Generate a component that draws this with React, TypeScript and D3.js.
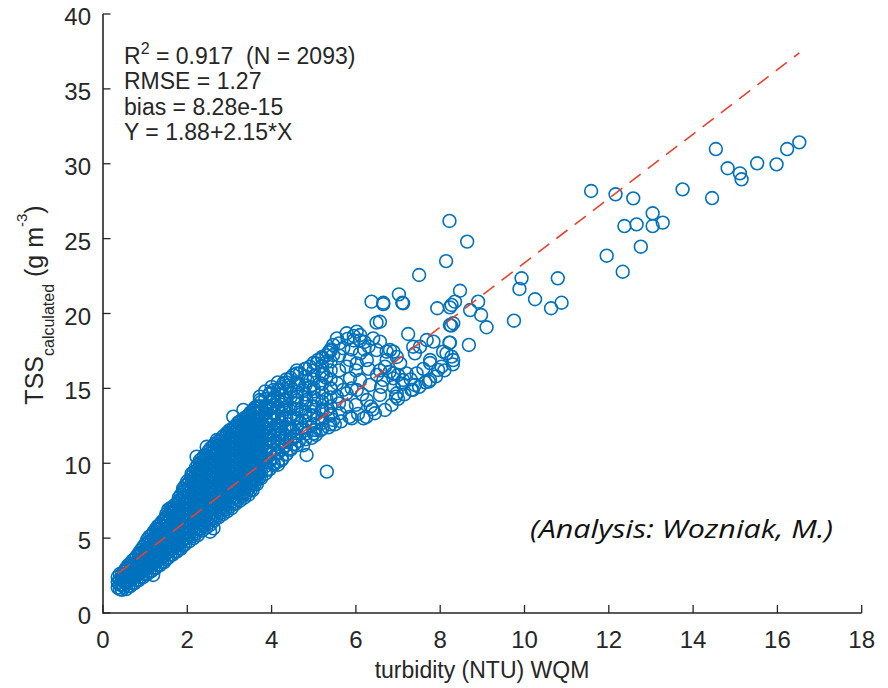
import React from "react";
import * as d3 from "d3";

const W = 888;
const H = 688;

const xTicks = [0, 2, 4, 6, 8, 10, 12, 14, 16, 18];
const yTicks = [0, 5, 10, 15, 20, 25, 30, 35, 40];

const fitIntercept = 1.88;
const fitSlope = 2.15;

const statR2 = "0.917";
const statN = "2093";
const statLines = ["RMSE = 1.27", "bias = 8.28e-15", "Y = 1.88+2.15*X"];

// Dense core of the cloud: x column and the y values of the circles read at that x
const denseX = [
  0.35, 0.45, 0.55, 0.65, 0.75, 0.85, 0.95, 1.05, 1.15, 1.25, 1.35, 1.45, 1.55, 1.65, 1.75, 1.85, 1.95,
  2.05, 2.15, 2.25, 2.35, 2.45, 2.55, 2.65, 2.75, 2.85, 2.95, 3.05, 3.15, 3.25, 3.35, 3.45, 3.55, 3.65, 3.75,
  3.85, 3.95, 4.05, 4.15, 4.25, 4.35, 4.45,
];
const denseY: number[][] = [
  [1.7, 2.05, 2.4],
  [1.55, 1.9, 2.25, 2.6],
  [1.6, 2.0, 2.4, 2.8, 3.0],
  [1.8, 2.2, 2.6, 3.0, 3.3],
  [2.0, 2.4, 2.8, 3.2, 3.6],
  [2.2, 2.6, 3.0, 3.4, 3.8, 4.0],
  [2.4, 2.8, 3.2, 3.6, 4.0, 4.4],
  [2.6, 3.0, 3.4, 3.8, 4.2, 4.6, 4.9],
  [2.8, 3.2, 3.6, 4.0, 4.4, 4.8, 5.2],
  [3.0, 3.4, 3.8, 4.2, 4.6, 5.0, 5.4, 5.6],
  [3.2, 3.6, 4.0, 4.4, 4.8, 5.2, 5.6, 5.9],
  [3.4, 3.8, 4.2, 4.6, 5.0, 5.4, 5.8, 6.2],
  [3.7, 4.1, 4.5, 4.9, 5.3, 5.7, 6.1, 6.5, 6.9],
  [3.9, 4.3, 4.7, 5.1, 5.5, 5.9, 6.3, 6.7, 7.0],
  [4.1, 4.5, 4.9, 5.3, 5.7, 6.1, 6.5, 6.9, 7.3],
  [4.3, 4.7, 5.1, 5.5, 5.9, 6.3, 6.7, 7.1, 7.5, 7.9],
  [4.6, 5.0, 5.4, 5.8, 6.2, 6.6, 7.0, 7.4, 7.8, 8.2, 8.5],
  [4.8, 5.2, 5.6, 6.0, 6.4, 6.8, 7.2, 7.6, 8.0, 8.4, 8.8],
  [5.0, 5.4, 5.8, 6.2, 6.6, 7.0, 7.4, 7.8, 8.2, 8.6, 9.0, 9.4],
  [5.2, 5.6, 6.0, 6.4, 6.8, 7.2, 7.6, 8.0, 8.4, 8.8, 9.2, 9.6, 9.9],
  [5.5, 5.9, 6.3, 6.7, 7.1, 7.5, 7.9, 8.3, 8.7, 9.1, 9.5, 9.9, 10.3],
  [5.7, 6.1, 6.5, 6.9, 7.3, 7.7, 8.1, 8.5, 8.9, 9.3, 9.7, 10.1, 10.5],
  [5.9, 6.3, 6.7, 7.1, 7.5, 7.9, 8.3, 8.7, 9.1, 9.5, 9.9, 10.3, 10.7, 11.0],
  [6.2, 6.6, 7.0, 7.4, 7.8, 8.2, 8.6, 9.0, 9.4, 9.8, 10.2, 10.6, 11.0, 11.3],
  [6.4, 6.8, 7.2, 7.6, 8.0, 8.4, 8.8, 9.2, 9.6, 10.0, 10.4, 10.8, 11.2, 11.5],
  [6.6, 7.0, 7.4, 7.8, 8.2, 8.6, 9.0, 9.4, 9.8, 10.2, 10.6, 11.0, 11.4, 11.8],
  [6.8, 7.2, 7.6, 8.0, 8.4, 8.8, 9.2, 9.6, 10.0, 10.4, 10.8, 11.2, 11.6, 12.0],
  [7.0, 7.4, 7.8, 8.2, 8.6, 9.0, 9.4, 9.8, 10.2, 10.6, 11.0, 11.4, 11.8, 12.2],
  [7.3, 7.7, 8.1, 8.5, 8.9, 9.3, 9.7, 10.1, 10.5, 10.9, 11.3, 11.7, 12.1, 12.5],
  [7.5, 7.9, 8.3, 8.7, 9.1, 9.5, 9.9, 10.3, 10.7, 11.1, 11.5, 11.9, 12.3, 12.8],
  [7.7, 8.1, 8.5, 8.9, 9.3, 9.7, 10.1, 10.5, 10.9, 11.3, 11.7, 12.1, 12.5, 13.0],
  [7.9, 8.3, 8.7, 9.1, 9.5, 9.9, 10.3, 10.7, 11.1, 11.5, 11.9, 12.3, 12.7, 13.2],
  [8.2, 8.6, 9.0, 9.4, 9.8, 10.2, 10.6, 11.0, 11.4, 11.8, 12.2, 12.6, 13.0, 13.5],
  [8.6, 9.0, 9.4, 9.8, 10.2, 10.6, 11.0, 11.4, 11.8, 12.2, 12.6, 13.0, 13.4, 13.8],
  [9.0, 9.4, 9.8, 10.2, 10.6, 11.0, 11.4, 11.8, 12.2, 12.6, 13.0, 13.4, 13.8, 14.1],
  [9.3, 9.8, 10.3, 10.8, 11.3, 11.8, 12.3, 12.8, 13.3, 13.8, 14.3],
  [9.6, 10.1, 10.6, 11.1, 11.6, 12.1, 12.6, 13.1, 13.6, 14.1, 14.6],
  [9.9, 10.4, 10.9, 11.4, 11.9, 12.4, 12.9, 13.4, 13.9, 14.4, 14.9],
  [10.1, 10.7, 11.3, 11.9, 12.5, 13.1, 13.7, 14.3, 14.9],
  [10.3, 10.9, 11.5, 12.1, 12.7, 13.3, 13.9, 14.5, 15.1],
  [10.6, 11.2, 11.8, 12.4, 13.0, 13.6, 14.2, 14.8, 15.4],
  [10.9, 11.6, 12.3, 13.0, 13.7, 14.4, 15.1, 15.7],
];

// Second, interleaved set of columns of the dense core
const denseX2 = [
  0.4, 0.5, 0.6, 0.7, 0.8, 0.9, 1.0, 1.1, 1.2, 1.3, 1.4, 1.5, 1.6, 1.7, 1.8, 1.9, 2.0, 2.1, 2.2, 2.3, 2.4,
  2.5, 2.6, 2.7, 2.8, 2.9, 3.0, 3.1, 3.2, 3.3, 3.4, 3.5, 3.6, 3.7, 4.6, 4.8, 5.0, 5.2, 5.4,
];
const denseY2: number[][] = [
  [1.6, 1.9, 2.25, 2.6],
  [1.75, 2.1, 2.45, 2.8],
  [1.8, 2.2, 2.6, 3.0, 3.2],
  [2.0, 2.4, 2.8, 3.2, 3.5],
  [2.2, 2.6, 3.0, 3.4, 3.8],
  [2.4, 2.8, 3.2, 3.6, 4.0, 4.2],
  [2.6, 3.0, 3.4, 3.8, 4.2, 4.6],
  [2.8, 3.2, 3.6, 4.0, 4.4, 4.8, 5.1],
  [3.0, 3.4, 3.8, 4.2, 4.6, 5.0, 5.4],
  [3.2, 3.6, 4.0, 4.4, 4.8, 5.2, 5.6, 5.8],
  [3.4, 3.8, 4.2, 4.6, 5.0, 5.4, 5.8, 6.1],
  [3.6, 4.0, 4.4, 4.8, 5.2, 5.6, 6.0, 6.4, 6.6],
  [3.9, 4.3, 4.7, 5.1, 5.5, 5.9, 6.3, 6.7, 7.0],
  [4.1, 4.5, 4.9, 5.3, 5.7, 6.1, 6.5, 6.9, 7.2],
  [4.3, 4.7, 5.1, 5.5, 5.9, 6.3, 6.7, 7.1, 7.5, 7.7],
  [4.5, 4.9, 5.3, 5.7, 6.1, 6.5, 6.9, 7.3, 7.7, 8.1, 8.3],
  [5.0, 5.4, 5.8, 6.2, 6.6, 7.0, 7.4, 7.8, 8.2, 8.6, 8.8],
  [5.1, 5.5, 5.9, 6.3, 6.7, 7.1, 7.5, 7.9, 8.3, 8.7, 9.1, 9.3],
  [5.3, 5.7, 6.1, 6.5, 6.9, 7.3, 7.7, 8.1, 8.5, 8.9, 9.3, 9.7],
  [5.6, 6.0, 6.4, 6.8, 7.2, 7.6, 8.0, 8.4, 8.8, 9.2, 9.6, 10.0, 10.2],
  [5.8, 6.2, 6.6, 7.0, 7.4, 7.8, 8.2, 8.6, 9.0, 9.4, 9.8, 10.2, 10.5],
  [6.0, 6.4, 6.8, 7.2, 7.6, 8.0, 8.4, 8.8, 9.2, 9.6, 10.0, 10.4, 10.8],
  [6.3, 6.7, 7.1, 7.5, 7.9, 8.3, 8.7, 9.1, 9.5, 9.9, 10.3, 10.7, 11.1],
  [6.5, 6.9, 7.3, 7.7, 8.1, 8.5, 8.9, 9.3, 9.7, 10.1, 10.5, 10.9, 11.3],
  [6.7, 7.1, 7.5, 7.9, 8.3, 8.7, 9.1, 9.5, 9.9, 10.3, 10.7, 11.1, 11.5],
  [6.9, 7.3, 7.7, 8.1, 8.5, 8.9, 9.3, 9.7, 10.1, 10.5, 10.9, 11.3, 11.7],
  [7.1, 7.5, 7.9, 8.3, 8.7, 9.1, 9.5, 9.9, 10.3, 10.7, 11.1, 11.5, 11.9, 12.2],
  [7.3, 7.7, 8.1, 8.5, 8.9, 9.3, 9.7, 10.1, 10.5, 10.9, 11.3, 11.7, 12.1, 12.4],
  [7.6, 8.0, 8.4, 8.8, 9.2, 9.6, 10.0, 10.4, 10.8, 11.2, 11.6, 12.0, 12.4, 12.7],
  [7.8, 8.2, 8.6, 9.0, 9.4, 9.8, 10.2, 10.6, 11.0, 11.4, 11.8, 12.2, 12.6, 12.9],
  [8.0, 8.4, 8.8, 9.2, 9.6, 10.0, 10.4, 10.8, 11.2, 11.6, 12.0, 12.4, 12.8, 13.1],
  [8.2, 8.6, 9.0, 9.4, 9.8, 10.2, 10.6, 11.0, 11.4, 11.8, 12.2, 12.6, 13.0, 13.4],
  [8.6, 9.0, 9.4, 9.8, 10.2, 10.6, 11.0, 11.4, 11.8, 12.2, 12.6, 13.0, 13.4, 13.7],
  [9.0, 9.4, 9.8, 10.2, 10.6, 11.0, 11.4, 11.8, 12.2, 12.6, 13.0, 13.4, 13.8],
  [11.2, 11.8, 12.4, 13.0, 13.6, 14.2, 14.8, 15.4, 16.0],
  [11.6, 12.2, 12.8, 13.4, 14.0, 14.6, 15.2, 15.8, 16.3],
  [12.0, 12.6, 13.2, 13.8, 14.4, 15.0, 15.6, 16.2, 16.7],
  [12.3, 12.9, 13.5, 14.1, 14.7, 15.3, 15.9, 16.5, 17.1],
  [12.6, 13.2, 13.8, 14.4, 15.0, 15.6, 16.2, 16.8, 17.5],
];

// Edge circles of the core
const edgePoints: [number, number][] = [
  [1.19, 2.54], [1.63, 6.95], [2.22, 10.44], [2.54, 5.43], [2.62, 5.65], [2.46, 11.1], [2.7, 11.55],
  [2.93, 12.0], [3.17, 12.22], [3.09, 13.11], [3.33, 13.56], [3.57, 13.56], [3.41, 12.67], [3.72, 14.22],
  [3.72, 14.45], [3.65, 12.44], [3.49, 11.33], [3.25, 10.89], [3.72, 11.55], [3.88, 11.1], [3.72, 10.44],
  [3.96, 10.22], [3.88, 12.89], [4.04, 13.34], [2.78, 10.22], [3.09, 10.44], [3.41, 10.22], [3.49, 9.77],
  [3.88, 9.55], [3.25, 9.33], [2.93, 9.1], [3.57, 8.77], [3.09, 8.43], [2.7, 8.43], [3.33, 8.0],
];

// Medium-density part of the cloud
const midPoints: [number, number][] = [
  [3.96, 14.67], [4.2, 14.89], [4.28, 15.34], [4.51, 15.89], [4.67, 16.0], [4.91, 16.45], [5.07, 16.67],
  [5.31, 16.78], [5.46, 17.23], [5.46, 17.9], [5.7, 17.68], [5.55, 18.34], [5.78, 18.68], [6.02, 18.79],
  [6.1, 18.56], [5.23, 16.0], [5.15, 15.34], [4.91, 15.1], [4.75, 14.89], [4.6, 14.45], [4.83, 14.22],
  [5.07, 14.22], [5.55, 15.34], [5.55, 14.45], [4.91, 13.22], [4.67, 12.67], [4.83, 12.0], [5.03, 12.22],
  [4.28, 13.56], [4.44, 13.11], [4.2, 12.44], [4.36, 11.55], [4.04, 11.55], [4.24, 10.22], [4.12, 10.67],
  [4.83, 10.55], [5.31, 9.44], [3.95, 9.6], [4.05, 10.0], [4.15, 9.9], [4.35, 10.6], [4.45, 11.0],
  [4.55, 11.3], [4.65, 11.5], [4.75, 11.2], [4.95, 11.7], [5.05, 11.9], [5.15, 12.2], [5.35, 12.4],
  [5.5, 12.6], [5.65, 12.8], [5.85, 13.1], [6.05, 13.3], [6.25, 13.1], [6.4, 13.6], [3.95, 12.0],
  [4.1, 12.3], [4.0, 13.0], [4.15, 13.8], [4.3, 14.2], [4.45, 14.7], [4.5, 12.2], [4.6, 13.0], [4.7, 13.6],
  [4.4, 12.6], [4.55, 14.0], [4.8, 13.2], [4.95, 13.8], [5.1, 13.0], [5.2, 13.6], [5.3, 14.3], [5.4, 15.0],
  [5.0, 14.8], [4.85, 15.5], [4.65, 15.3], [4.4, 15.2], [4.05, 14.2], [3.9, 13.7], [3.85, 12.4], [4.2, 11.9],
  [4.3, 11.1], [4.55, 11.8], [4.7, 12.3], [5.2, 12.7], [5.4, 13.3], [5.6, 14.0], [5.7, 14.9], [5.3, 15.7],
  [5.0, 15.8], [5.6, 16.2], [5.2, 17.0], [5.35, 17.4], [5.6, 17.2], [5.9, 17.6], [5.95, 18.2], [6.2, 18.1],
  [6.3, 17.8], [5.85, 16.9], [6.0, 16.2], [6.3, 16.3], [5.9, 15.0], [6.15, 14.6], [6.0, 13.9], [6.35, 13.8],
  [6.6, 15.1], [6.5, 15.9], [6.8, 16.1], [3.85, 14.8], [4.0, 15.1], [4.15, 15.4], [4.35, 15.6], [4.6, 16.2],
  [4.8, 16.3], [5.1, 16.9], [5.3, 17.2], [5.4, 17.6], [5.6, 18.0], [5.8, 18.3], [5.95, 18.5], [6.1, 18.2],
  [6.2, 17.6], [6.37, 20.79], [6.65, 20.63], [7.12, 20.68], [6.49, 19.39], [7.24, 18.63], [8.23, 19.23],
  [8.23, 18.05], [7.84, 18.12], [7.52, 17.78], [7.76, 16.89], [8.15, 17.34], [8.31, 16.89], [7.95, 16.23],
  [7.4, 17.34], [7.05, 16.67], [7.2, 16.0], [6.89, 15.67], [7.4, 15.23], [7.76, 15.56], [6.69, 16.45],
  [6.33, 15.23], [6.57, 14.56], [6.97, 14.67], [6.69, 13.56], [6.45, 13.34], [6.26, 14.22], [6.02, 14.89],
  [5.78, 14.67], [5.78, 13.78], [5.9, 13.0], [5.62, 13.34], [5.46, 12.89], [5.31, 13.56], [6.18, 13.0],
  [6.1, 15.56], [5.86, 15.67], [6.26, 16.89], [6.02, 16.67], [5.78, 16.45], [6.1, 17.34], [6.49, 17.56],
  [6.73, 17.45], [6.89, 17.45], [6.57, 18.12], [6.41, 18.34], [6.85, 13.9], [7.0, 14.3], [7.15, 14.6],
  [7.35, 14.9], [7.5, 15.1], [7.65, 15.4], [7.9, 15.8], [8.1, 16.2], [8.3, 16.6], [7.3, 15.6], [7.6, 16.3],
  [7.1, 15.3], [6.9, 15.1], [6.95, 14.45], [7.0, 15.9], [7.32, 14.9], [7.73, 15.45], [7.76, 16.69],
  [8.03, 16.45], [8.27, 17.12], [8.07, 17.45], [7.36, 17.78], [7.68, 18.23], [6.81, 17.56], [6.73, 16.9],
  [6.97, 17.1], [6.57, 16.2], [6.89, 16.0], [6.65, 15.56], [7.12, 15.56], [7.44, 16.0], [8.31, 19.35],
];

// Sparse upper-right circles
const sparsePoints: [number, number][] = [
  [7.02, 21.28], [7.1, 20.72], [6.65, 20.72], [6.57, 19.45], [8.47, 21.52], [8.35, 20.79], [8.23, 20.41],
  [7.93, 20.35], [8.27, 20.57], [8.71, 20.23], [8.9, 20.79], [8.97, 19.9], [9.1, 19.08], [8.26, 19.19],
  [8.22, 18.05], [8.68, 17.9], [8.14, 23.5], [7.5, 22.57], [8.22, 26.18], [8.64, 24.8], [9.93, 22.35],
  [9.88, 21.64], [10.79, 22.35], [10.25, 20.95], [10.63, 20.35], [10.88, 20.72], [9.75, 19.52],
  [11.95, 23.86], [12.33, 22.79], [12.37, 25.84], [12.66, 25.95], [13.04, 26.69], [13.28, 26.07],
  [13.04, 25.84], [12.76, 24.46], [11.58, 28.18], [12.16, 27.96], [12.58, 27.69], [13.75, 28.29],
  [14.45, 27.71], [14.54, 30.98], [14.82, 29.7], [15.11, 29.36], [15.15, 28.96], [15.52, 30.03],
  [15.98, 29.96], [16.23, 30.98], [16.52, 31.43],
];

const FONT = "'Liberation Sans', Arial, Helvetica, sans-serif";
const TXT = "#262626";
const BLUE = "#0072BD";
const RED = "#E8432F";

export default function App() {
  const x = d3.scaleLinear().domain([0, 18]).range([103, 861.7]);
  const y = d3.scaleLinear().domain([0, 40]).range([613, 14]);

  const cols = (xs: number[], ys: number[][]) =>
    xs.flatMap((xv, i) => ys[i].map((yv) => [xv, yv] as [number, number]));

  const points: [number, number][] = [
    ...cols(denseX, denseY),
    ...cols(denseX2, denseY2),
    ...edgePoints,
    ...midPoints,
    ...sparsePoints,
  ];

  const [xmin, xmax] = d3.extent(points, (d) => d[0]) as [number, number];
  const fitLine = d3
    .line<number>()
    .x((d) => x(d))
    .y((d) => y(fitIntercept + fitSlope * d));

  const x0 = x(0);
  const y0 = y(0);

  return (
    <svg width={W} height={H} style={{ position: "absolute", left: 0, top: 0, background: "#fff" }}>
      <rect x={0} y={0} width={W} height={H} fill="#fff" />
      <g>
        {points.map((p, i) => (
          <circle key={i} cx={x(p[0])} cy={y(p[1])} r={6.4} fill="none" stroke={BLUE} strokeWidth={1.6} />
        ))}
      </g>
      <path d={fitLine([xmin, xmax]) || ""} fill="none" stroke={RED} strokeWidth={1.6} strokeDasharray="14 9" />

      {/* axes */}
      <path d={`M${x0},${y(40)}V${y0}H${x(18)}`} fill="none" stroke={TXT} strokeWidth={1.6} />
      {xTicks.map((t) => (
        <g key={"xt" + t}>
          <line x1={x(t)} x2={x(t)} y1={y0} y2={y0 - 8} stroke={TXT} strokeWidth={1.3} />
          <text x={x(t)} y={y0 + 35} textAnchor="middle" fontFamily={FONT} fontSize={24} fill={TXT}>
            {t}
          </text>
        </g>
      ))}
      {yTicks.map((t) => (
        <g key={"yt" + t}>
          <line x1={x0} x2={x0 + 7.5} y1={y(t)} y2={y(t)} stroke={TXT} strokeWidth={1.3} />
          <text x={91} y={y(t) + 11} textAnchor="end" fontFamily={FONT} fontSize={24} fill={TXT}>
            {t}
          </text>
        </g>
      ))}

      {/* axis labels */}
      <text x={482} y={678} textAnchor="middle" fontFamily={FONT} fontSize={23} fill={TXT}>
        turbidity (NTU) WQM
      </text>
      <text
        transform="translate(43,305) rotate(-90)"
        textAnchor="middle"
        fontFamily={FONT}
        fontSize={25}
        fill={TXT}
        xmlSpace="preserve"
      >
        <tspan>TSS</tspan>
        <tspan fontSize={16} dy={11}>calculated</tspan>
        <tspan dy={-11}> (g m</tspan>
        <tspan fontSize={15} dy={-16}>-3</tspan>
        <tspan dy={16}>)</tspan>
      </text>

      {/* statistics */}
      <g fontFamily={FONT} fontSize={23} fill={TXT}>
        <text x={124} y={63.5} xmlSpace="preserve">
          <tspan>R</tspan>
          <tspan fontSize={16} dy={-10}>2</tspan>
          <tspan dy={10}>{` = ${statR2}  (N = ${statN})`}</tspan>
        </text>
        {statLines.map((s, i) => (
          <text key={s} x={124} y={89 + i * 25.5}>
            {s}
          </text>
        ))}
      </g>

      <text
        x={530}
        y={538}
        fontFamily="'Open Sans', 'Noto Sans', sans-serif"
        fontStyle="italic"
        fontWeight={400}
        fontSize={25}
        fill="#111"
        textLength={303}
        lengthAdjust="spacingAndGlyphs"
      >
        (Analysis: Wozniak, M.)
      </text>
    </svg>
  );
}
